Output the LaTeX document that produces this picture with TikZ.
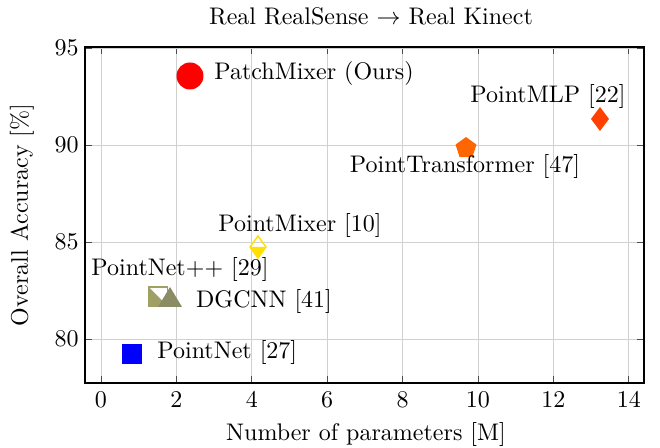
\documentclass[tikz,border=0pt]{standalone}
\usepackage{amssymb}
\definecolor{ptmlp}{RGB}{255,64,0}
\definecolor{pttr}{RGB}{255,102,0}
\definecolor{ptmix}{RGB}{255,224,0}
\definecolor{olivea}{RGB}{160,160,100}
\definecolor{oliveb}{RGB}{140,140,100}
\definecolor{gridc}{RGB}{208,208,208}
\begin{document}
\begin{tikzpicture}[x=0.41667pt,y=-0.41667pt,
  gridline/.style={gridc, line width=0.4pt},
  tickline/.style={black!70, line width=0.4pt},
  ticklab/.style={inner sep=0pt, font=\normalsize},
  lab/.style={inner sep=0pt, font=\normalsize}]
\useasboundingbox (0,0) rectangle (660,448);
% grid
\foreach \v/\px in {0/101,2/176.4,4/251.8,6/327.2,8/402.6,10/478,12/553.4,14/628.8}{
  \draw[gridline] (\px,47) -- (\px,383);
  \draw[tickline] (\px,383) -- (\px,376.2);
  \draw[tickline] (\px,47) -- (\px,53.8);
  \node[ticklab] (xt\v) at (\px,402) {\strut$\v$};
}
\foreach \v/\py in {80/339,85/242,90/145,95/48}{
  \draw[gridline] (85,\py) -- (644,\py);
  \draw[tickline] (85,\py) -- (91.8,\py);
  \draw[tickline] (644,\py) -- (637.2,\py);
  \node[ticklab, anchor=east] (yt\v) at (79,\py) {$\v$};
}
\draw[black, line width=0.6pt] (85,47) rectangle (644,383);
% axis labels and title
\node[lab] (title) at (371,16) {Real RealSense $\rightarrow$ Real Kinect};
\node[lab] (xlabel) at (366,435) {Number of parameters [M]};
\node[lab, rotate=90] (ylabel) at (22,215) {Overall Accuracy [\%]};
% markers
\fill[red] (190,76) circle (13.5);
\fill[ptmlp] (600,107) -- (609,119) -- (600,131) -- (591,119) -- cycle;
\fill[pttr] (466,137) -- (476.46,144.6) -- (472.47,156.9) -- (459.53,156.9) -- (455.54,144.6) -- cycle;
\fill[ptmix] (250,247) -- (266,247) -- (258,258) -- cycle;
\draw[ptmix, line width=0.6pt] (258,236) -- (266,247) -- (258,258) -- (250,247) -- cycle;
\fill[olivea] (148.5,287) -- (148.5,306) -- (167.5,306) -- cycle;
\draw[olivea, line width=0.6pt] (148.5,287) rectangle (167.5,306);
\fill[oliveb] (170,287) -- (182,307) -- (158,307) -- cycle;
\fill[blue] (122.5,344) rectangle (142.5,364);
% labels
\node[lab, anchor=west] (l1) at (214,74) {PatchMixer (Ours)};
\node[lab] (l2) at (548,97) {PointMLP [22]};
\node[lab] (l3) at (465,167) {PointTransformer [47]};
\node[lab] (l4) at (300,226) {PointMixer [10]};
\node[lab] (l5) at (180,270) {PointNet++ [29]};
\node[lab] (l6) at (264,302) {DGCNN [41]};
\node[lab, anchor=west] (l7) at (157,353) {PointNet [27]};
\end{tikzpicture}
\end{document}
